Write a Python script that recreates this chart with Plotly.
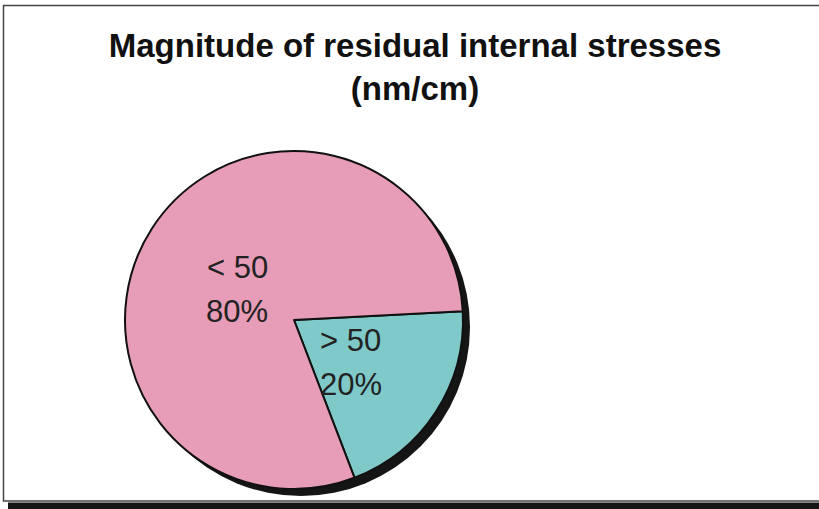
import math
import plotly.graph_objects as go

labels = ["> 50", "< 50"]
values = [20, 80]
colors = ["#7FC9C9", "#E79CB7"]
title_lines = ["Magnitude of residual internal stresses", "(nm/cm)"]

W, H = 819, 509
cx, cy, r = 294, 320, 169  # pie center / radius in pixels (from top-left)
rotation = 87
label_rfrac = 0.4
line_gap = 44

fig = go.Figure()
fig.add_trace(go.Pie(
    labels=labels,
    values=values,
    sort=False,
    direction="clockwise",
    rotation=rotation,
    marker=dict(colors=colors, line=dict(color="#111111", width=2)),
    textinfo="none",
    hoverinfo="label+percent",
    showlegend=False,
    domain=dict(x=[(cx - r) / W, (cx + r) / W], y=[(H - cy - r) / H, (H - cy + r) / H]),
))

# slice labels placed along each slice's mid-angle (derived from the values)
total = sum(values)
annotations = []
cum = 0
lab_font = dict(family="Arial, Liberation Sans, sans-serif", size=31, color="#222222")
for lab, v in zip(labels, values):
    mid = rotation + (cum + v / 2) / total * 360  # degrees clockwise from 12 o'clock
    cum += v
    a = math.radians(mid)
    dx = label_rfrac * r * math.sin(a)
    dy = -label_rfrac * r * math.cos(a)
    ax, ay = (cx + dx) / W, 1 - (cy + dy) / H
    for txt, ys in ((lab, line_gap / 2 - 6), (f"{round(v / total * 100)}%", -line_gap / 2 - 6)):
        annotations.append(dict(
            x=ax, y=ay, xref="paper", yref="paper", yshift=ys,
            text=txt, showarrow=False,
            xanchor="center", yanchor="middle", align="center",
            font=lab_font,
        ))

# shadow behind pie + frame
off = 7
shapes = [
    dict(type="circle", xref="paper", yref="paper", layer="below",
         x0=(cx - r + off) / W, x1=(cx + r + off) / W,
         y0=(H - cy - r - off) / H, y1=(H - cy + r - off) / H,
         fillcolor="#151515", line=dict(width=0)),
    dict(type="rect", xref="paper", yref="paper", layer="below",
         x0=8 / W, x1=1.05, y0=-0.01, y1=6.5 / H,
         fillcolor="#151515", line=dict(width=0)),
    dict(type="rect", xref="paper", yref="paper", layer="below",
         x0=3.5 / W, x1=1.05, y0=(H - 501) / H, y1=(H - 5.5) / H,
         fillcolor="rgba(0,0,0,0)", line=dict(color="#444444", width=1.5)),
]

fig.update_layout(
    width=W, height=H,
    margin=dict(l=0, r=0, t=0, b=0),
    paper_bgcolor="white",
    plot_bgcolor="white",
    shapes=shapes,
    annotations=annotations,
    title=dict(
        text="<b>" + "<br>".join(title_lines) + "</b>",
        x=415 / W, xanchor="center",
        y=1 - 57 / H, yanchor="middle",
        font=dict(family="Arial, Liberation Sans, sans-serif", size=33, color="#111111"),
    ),
)

fig.write_html("out.html", config={"displayModeBar": False},
               post_script="document.body.style.margin='0';document.body.style.overflow='hidden';")
